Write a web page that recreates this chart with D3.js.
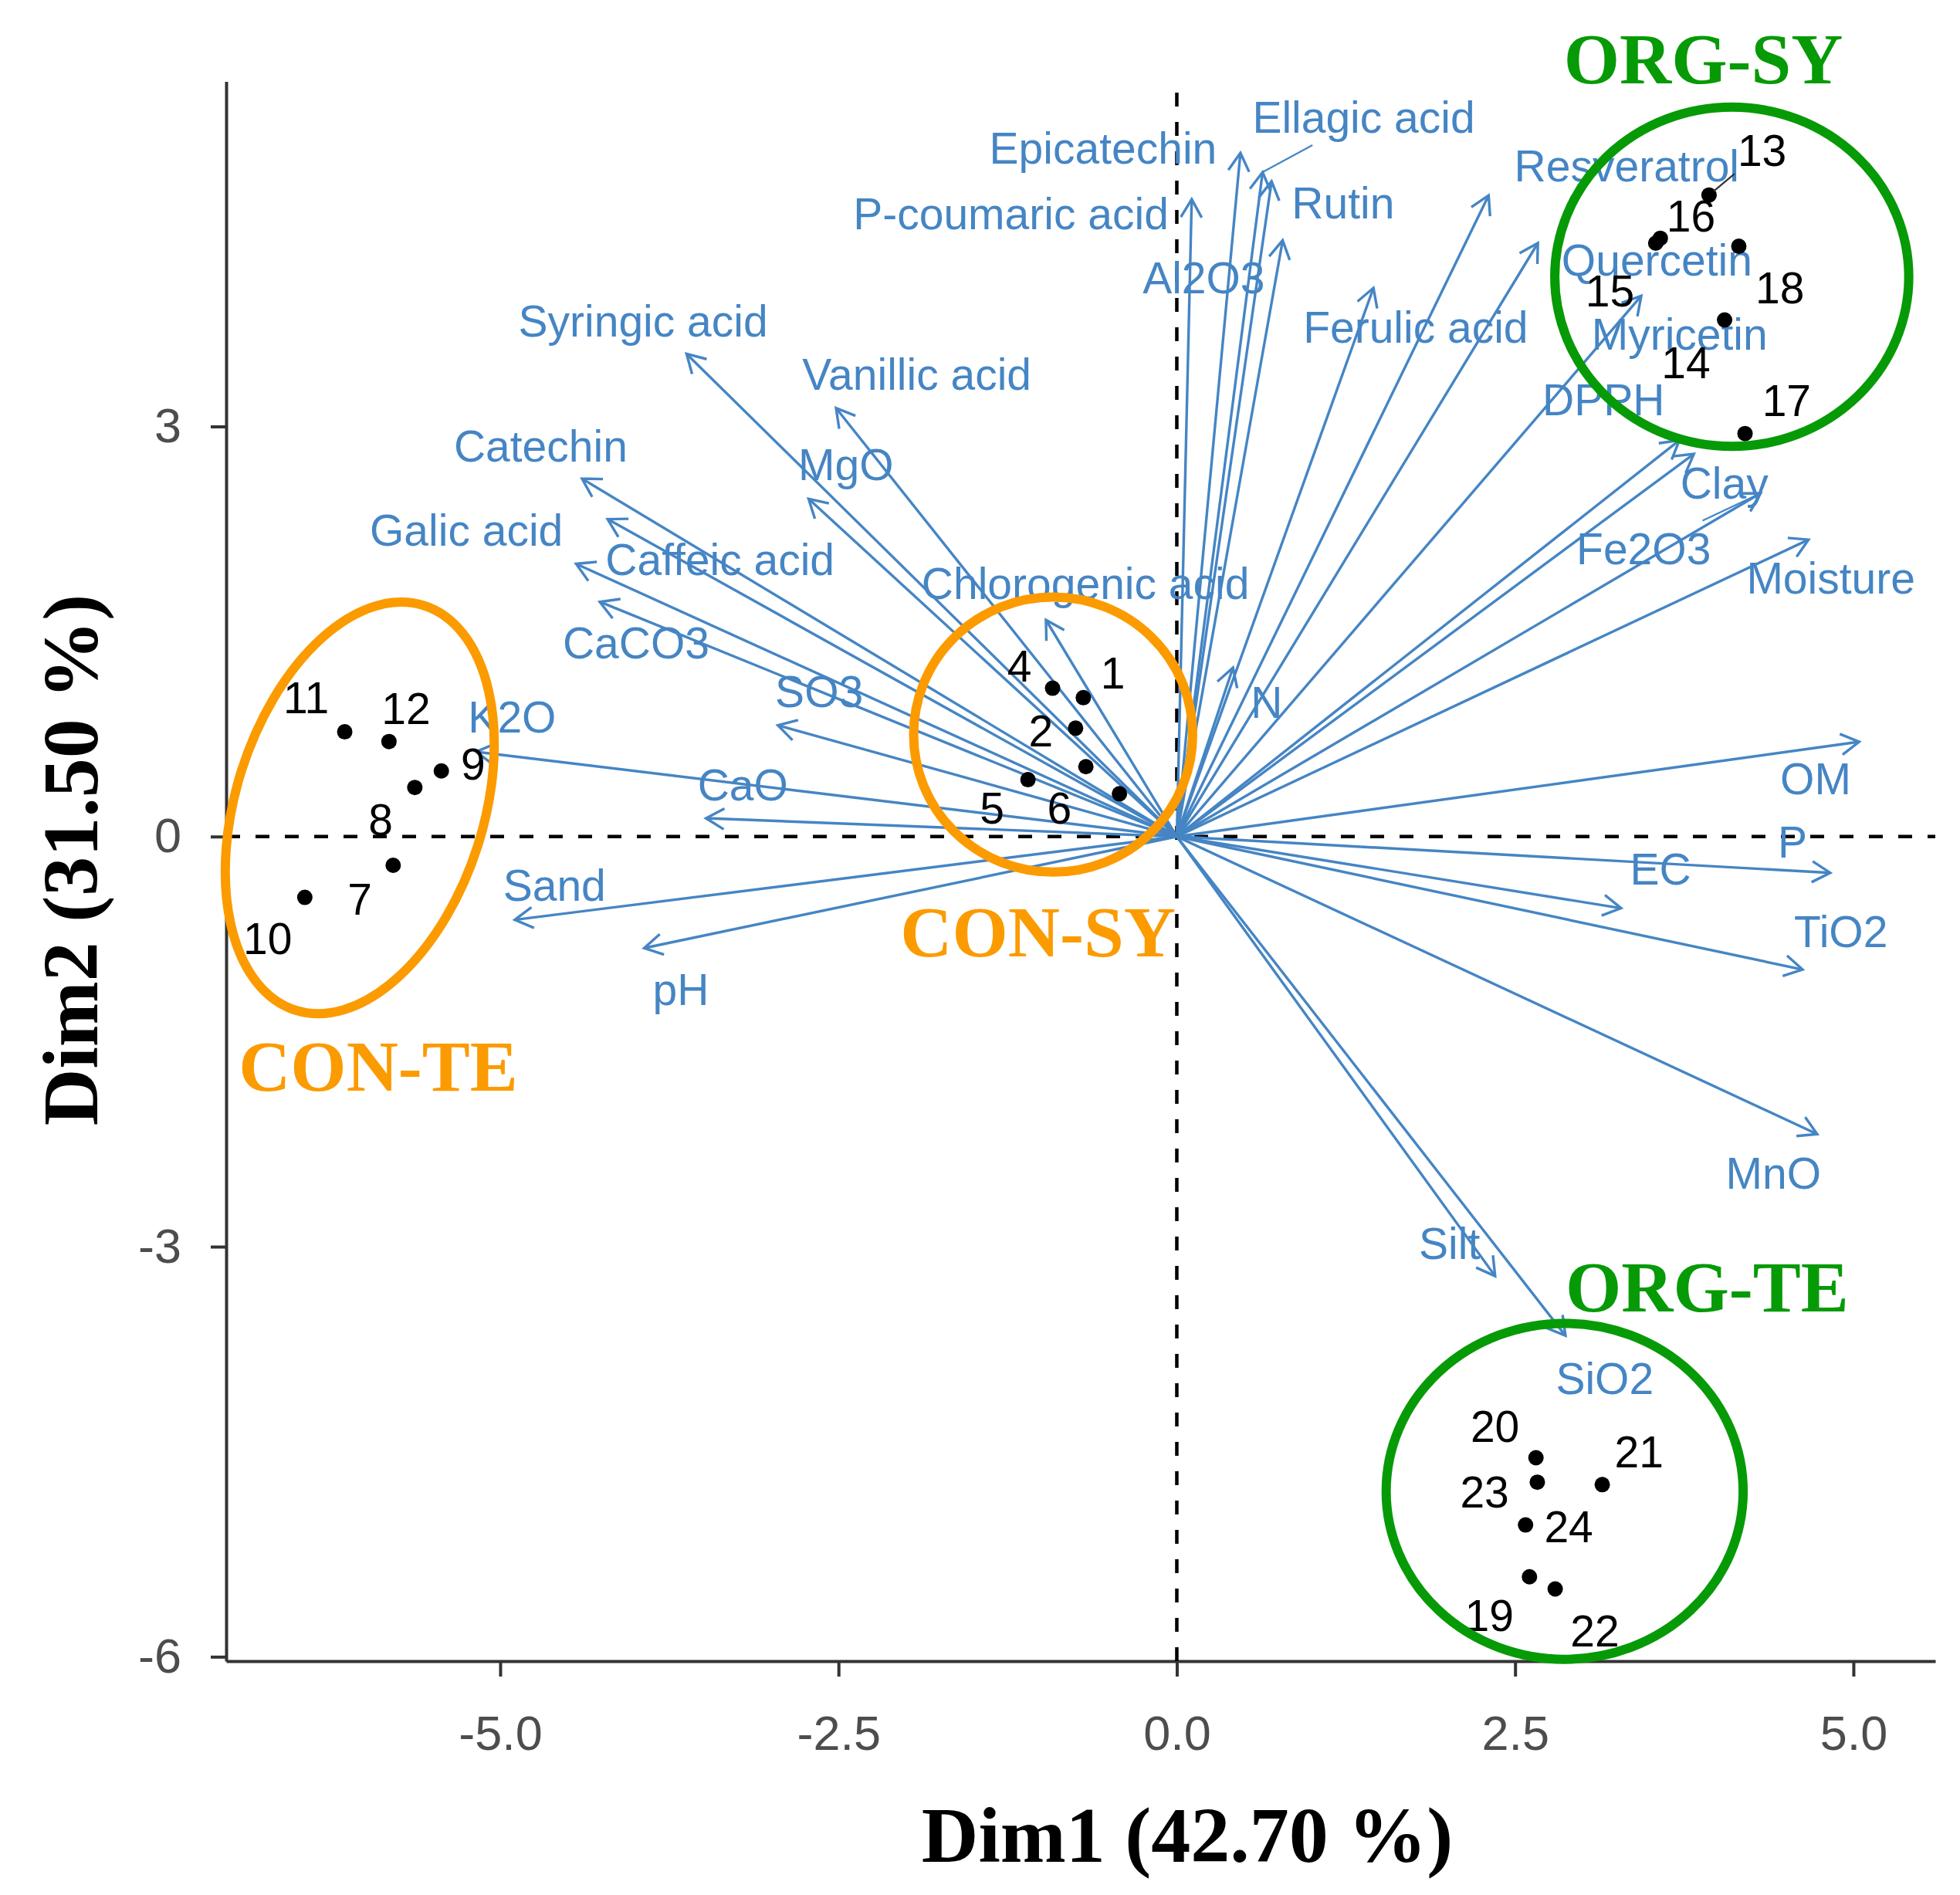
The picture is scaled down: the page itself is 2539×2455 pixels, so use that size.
<!DOCTYPE html>
<html>
<head>
<meta charset="utf-8">
<script src="https://cdn.jsdelivr.net/npm/d3@7"></script>
<style>
  body { margin: 0; background: #fff; }
  svg { display: block; }
</style>
</head>
<body>
<div id="chart"></div>
<script>
// Variables: arrow tips (Dim1, Dim2) and where their repelled labels sit.
var varNames = ["Epicatechin", "Ellagic acid", "Rutin", "Al2O3", "P-coumaric acid", "Ferulic acid",
    "Resveratrol", "Quercetin", "Myricetin", "DPPH", "Clay", "Fe2O3", "Moisture", "OM", "P", "EC",
    "TiO2", "MnO", "Silt", "SiO2", "N", "Chlorogenic acid", "Syringic acid", "Vanillic acid", "MgO",
    "Catechin", "Galic acid", "Caffeic acid", "CaCO3", "SO3", "K2O", "CaO", "Sand", "pH"];
var varDim1 = [0.470, 0.634, 0.700, 0.782, 0.110, 1.453,
    2.304, 2.668, 3.432, 3.714, 3.821, 4.314, 4.668, 5.042, 4.828, 3.283,
    4.624, 4.732, 2.352, 2.872, 0.415, -0.967, -3.623, -2.518, -2.721,
    -4.395, -4.206, -4.439, -4.264, -2.948, -5.178, -3.479, -4.892, -3.936];
var varDim2 = [5.001, 4.860, 4.793, 4.361, 4.662, 4.013,
    4.690, 4.341, 3.955, 2.899, 2.799, 2.511, 2.172, 0.693, -0.265, -0.524,
    -0.973, -2.177, -3.215, -3.651, 1.235, 1.584, 3.531, 3.134, 2.470,
    2.618, 2.322, 1.995, 1.717, 0.814, 0.620, 0.134, -0.609, -0.816];
var varLabelDim1 = [-0.545, 1.381, 1.229, 0.199, -1.226, 1.765,
    3.325, 3.548, 3.715, 3.153, 4.046, 3.450, 4.833, 4.721, 4.550, 3.575,
    4.907, 4.409, 2.015, 3.162, 0.664, -0.675, -3.944, -1.921, -2.445,
    -4.701, -5.250, -3.376, -3.996, -2.643, -4.912, -3.207, -4.599, -3.665];
var varLabelDim2 = [5.038, 5.261, 4.634, 4.084, 4.558, 3.724,
    4.906, 4.216, 3.672, 3.194, 2.583, 2.107, 1.891, 0.421, -0.040, -0.236,
    -0.695, -2.461, -2.975, -3.963, 0.982, 1.848, 3.771, 3.382, 2.718,
    2.856, 2.242, 2.025, 1.414, 1.061, 0.874, 0.375, -0.355, -1.118];
var varLeaders = ["Ellagic acid", "Fe2O3"];

// Individuals (samples 1-24). Sample 3 has no visible label.
var sampleIds = ["1", "2", "3", "4", "5", "6", "7", "8", "9", "10", "11", "12",
    "13", "14", "15", "16", "17", "18", "19", "20", "21", "22", "23", "24"];
var sampleDim1 = [-0.691, -0.748, -0.424, -0.918, -1.100, -0.672,
    -5.791, -5.631, -5.435, -6.444, -6.149, -5.822,
    3.933, 4.048, 3.539, 3.573, 4.199, 4.153,
    2.606, 2.654, 3.144, 2.796, 2.664, 2.577];
var sampleDim2 = [1.016, 0.793, 0.313, 1.085, 0.416, 0.511,
    -0.210, 0.359, 0.480, -0.445, 0.766, 0.695,
    4.693, 3.779, 4.341, 4.377, 2.948, 4.318,
    -5.415, -4.544, -4.741, -5.504, -4.723, -5.036];
var sampleLabelDim1 = [-0.472, -1.005, null, -1.163, -1.366, -0.868,
    -6.038, -5.883, -5.201, -6.719, -6.434, -5.696,
    4.325, 3.762, 3.200, 3.799, 4.506, 4.457,
    2.309, 2.351, 3.416, 3.089, 2.274, 2.896];
var sampleLabelDim2 = [1.198, 0.770, null, 1.245, 0.206, 0.209,
    -0.457, 0.124, 0.532, -0.749, 1.014, 0.937,
    5.016, 3.463, 3.989, 4.538, 3.188, 4.013,
    -5.699, -4.315, -4.500, -5.811, -4.794, -5.047];
var sampleLeaders = ["13"];

// Hand-drawn group ellipses (centre, radii in Dim units, tilt in degrees).
var groupNames = ["CON-TE", "CON-SY", "ORG-SY", "ORG-TE"];
var groupDim1 = [-6.038, -0.914, 4.101, 2.866];
var groupDim2 = [0.210, 0.746, 4.095, -4.790];
var groupRadius1 = [0.916, 1.031, 1.308, 1.319];
var groupRadius2 = [1.553, 1.006, 1.241, 1.229];
var groupTilt = [17.6, 0, 0, 0];
var groupLabelDim1 = [-5.901, -1.026, 3.891, 3.919];
var groupLabelDim2 = [-1.857, -0.878, 5.512, -3.472];

var xTicks = [-5, -2.5, 0, 2.5, 5];
var yTicks = [-6, -3, 0, 3];
var xTitle = "Dim1 (42.70 %)";
var yTitle = "Dim2 (31.50 %)";

var W = 2539, H = 2455;
var margin = {top: 105.5, right: 32, bottom: 303, left: 293};
var blue = "#4585c4";

var svg = d3.select("#chart").append("svg")
    .attr("width", W).attr("height", H)
    .style("background", "#fff");

var x = d3.scaleLinear().domain([-7.025, 5.605]).range([margin.left, W - margin.right]);
var y = d3.scaleLinear().domain([-6.032, 5.524]).range([H - margin.bottom, margin.top]);

// Axes (classic theme: lines on the left and bottom only).
var xAxis = svg.append("g")
    .attr("transform", "translate(0," + (H - margin.bottom) + ")")
    .call(d3.axisBottom(x).tickValues(xTicks).tickFormat(function(d) { return d.toFixed(1); })
        .tickSize(20).tickSizeOuter(0).tickPadding(50));
var yAxis = svg.append("g")
    .attr("transform", "translate(" + margin.left + ",0)")
    .call(d3.axisLeft(y).tickValues(yTicks).tickFormat(function(d) { return String(d); })
        .tickSize(20).tickSizeOuter(0).tickPadding(38));
[xAxis, yAxis].forEach(function(a) {
    a.select(".domain").attr("stroke", "#333").attr("stroke-width", 4);
    a.selectAll(".tick line").attr("stroke", "#333").attr("stroke-width", 4);
    a.selectAll(".tick text")
        .attr("fill", "#4d4d4d")
        .style("font-family", "'Liberation Sans', Arial, sans-serif")
        .style("font-size", "63px");
});

// Dashed reference lines through the origin.
svg.append("line")
    .attr("x1", x.range()[0]).attr("x2", x.range()[1])
    .attr("y1", y(0)).attr("y2", y(0))
    .attr("stroke", "#000").attr("stroke-width", 4.5).attr("stroke-dasharray", "18,20");
svg.append("line")
    .attr("x1", x(0)).attr("x2", x(0))
    .attr("y1", y.range()[0]).attr("y2", y.range()[1])
    .attr("stroke", "#000").attr("stroke-width", 4.5).attr("stroke-dasharray", "18,20");

// Open arrowhead at (x1,y1) pointing away from (x0,y0).
function headPath(x0, y0, x1, y1) {
    var ang = Math.atan2(y1 - y0, x1 - x0),
        len = 27,
        a = Math.PI / 6;
    return "M" + (x1 - len * Math.cos(ang - a)) + "," + (y1 - len * Math.sin(ang - a)) +
        "L" + x1 + "," + y1 +
        "L" + (x1 - len * Math.cos(ang + a)) + "," + (y1 - len * Math.sin(ang + a));
}

// Segment from a label box edge toward a target, like ggrepel does.
function leader(g, textNode, tx, ty, color, gap) {
    var b = textNode.getBBox(),
        cx = b.x + b.width / 2, cy = b.y + b.height / 2,
        dx = tx - cx, dy = ty - cy,
        t = Math.min(Math.abs((b.width / 2 + 4) / dx), Math.abs((b.height / 2 + 4) / dy)),
        d = Math.sqrt(dx * dx + dy * dy),
        e = 1 - gap / d;
    g.append("line")
        .attr("x1", cx + dx * t).attr("y1", cy + dy * t)
        .attr("x2", cx + dx * e).attr("y2", cy + dy * e)
        .attr("stroke", color).attr("stroke-width", 2.2);
}

var idx = d3.range(varNames.length);
var arrows = svg.append("g").attr("class", "arrows");
arrows.selectAll("line").data(idx).enter().append("line")
    .attr("x1", x(0)).attr("y1", y(0))
    .attr("x2", function(i) { return x(varDim1[i]); })
    .attr("y2", function(i) { return y(varDim2[i]); })
    .attr("stroke", blue).attr("stroke-width", 3.4);
arrows.selectAll("path").data(idx).enter().append("path")
    .attr("d", function(i) { return headPath(x(0), y(0), x(varDim1[i]), y(varDim2[i])); })
    .attr("fill", "none").attr("stroke", blue).attr("stroke-width", 3.4)
    .attr("stroke-linejoin", "miter");

var varText = svg.append("g").attr("class", "var-labels");
varText.selectAll("text").data(idx).enter().append("text")
    .attr("x", function(i) { return x(varLabelDim1[i]); })
    .attr("y", function(i) { return y(varLabelDim2[i]); })
    .attr("dy", "0.35em")
    .attr("text-anchor", "middle")
    .attr("fill", blue)
    .style("font-family", "'Liberation Sans', Arial, sans-serif")
    .style("font-size", "57px")
    .text(function(i) { return varNames[i]; })
    .each(function(i) {
        if (varLeaders.indexOf(varNames[i]) >= 0) {
            leader(varText, this, x(varDim1[i]), y(varDim2[i]), blue, 0);
        }
    });

// Individuals.
var sidx = d3.range(sampleIds.length);
svg.append("g").selectAll("circle").data(sidx).enter().append("circle")
    .attr("cx", function(i) { return x(sampleDim1[i]); })
    .attr("cy", function(i) { return y(sampleDim2[i]); })
    .attr("r", 10)
    .attr("fill", "#000");

var sampleText = svg.append("g").attr("class", "sample-labels");
sampleText.selectAll("text").data(sidx.filter(function(i) { return sampleLabelDim1[i] !== null; }))
  .enter().append("text")
    .attr("x", function(i) { return x(sampleLabelDim1[i]); })
    .attr("y", function(i) { return y(sampleLabelDim2[i]); })
    .attr("dy", "0.35em")
    .attr("text-anchor", "middle")
    .attr("fill", "#000")
    .style("font-family", "'Liberation Sans', Arial, sans-serif")
    .style("font-size", "57px")
    .text(function(i) { return sampleIds[i]; })
    .each(function(i) {
        if (sampleLeaders.indexOf(sampleIds[i]) >= 0) {
            leader(sampleText, this, x(sampleDim1[i]), y(sampleDim2[i]), "#333", 8);
        }
    });

// Group ellipses and their names.
function groupColor(name) {
    return name.indexOf("ORG") === 0 ? "#079a07" : "#fb9b00";
}
var gidx = d3.range(groupNames.length);
svg.append("g").selectAll("ellipse").data(gidx).enter().append("ellipse")
    .attr("transform", function(i) {
        return "translate(" + x(groupDim1[i]) + "," + y(groupDim2[i]) + ") rotate(" + groupTilt[i] + ")";
    })
    .attr("rx", function(i) { return x(groupRadius1[i]) - x(0); })
    .attr("ry", function(i) { return y(0) - y(groupRadius2[i]); })
    .attr("fill", "none")
    .attr("stroke", function(i) { return groupColor(groupNames[i]); })
    .attr("stroke-width", 12);
svg.append("g").selectAll("text").data(gidx).enter().append("text")
    .attr("x", function(i) { return x(groupLabelDim1[i]); })
    .attr("y", function(i) { return y(groupLabelDim2[i]); })
    .attr("text-anchor", "middle")
    .attr("fill", function(i) { return groupColor(groupNames[i]); })
    .style("font-family", "'Liberation Serif', 'Times New Roman', serif")
    .style("font-weight", "bold")
    .style("font-size", "93px")
    .text(function(i) { return groupNames[i]; });

// Axis titles.
svg.append("text")
    .attr("x", 1538)
    .attr("y", 2412)
    .attr("text-anchor", "middle")
    .style("font-family", "'Liberation Serif', 'Times New Roman', serif")
    .style("font-weight", "bold")
    .style("font-size", "102px")
    .text(xTitle);
svg.append("text")
    .attr("transform", "translate(126,1114) rotate(-90)")
    .attr("text-anchor", "middle")
    .style("font-family", "'Liberation Serif', 'Times New Roman', serif")
    .style("font-weight", "bold")
    .style("font-size", "102px")
    .text(yTitle);
</script>
</body>
</html>
